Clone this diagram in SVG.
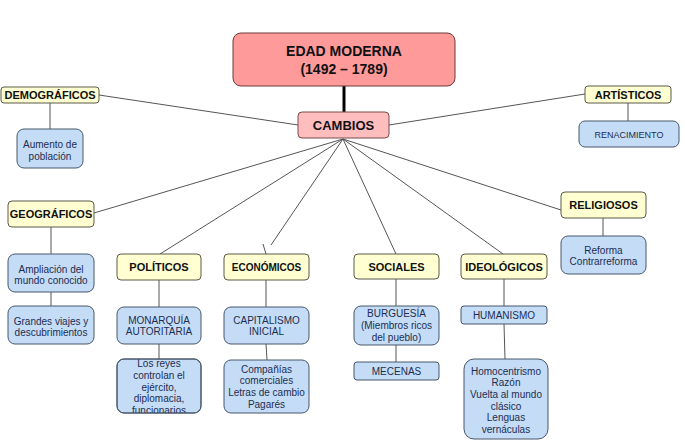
<svg xmlns="http://www.w3.org/2000/svg" width="685" height="447" viewBox="0 0 685 447">
<defs>
<style>
.t{font-family:"Liberation Sans",Arial,sans-serif;font-weight:bold;font-size:11px;fill:#111;text-anchor:middle}
.b{font-family:"Liberation Sans",Arial,sans-serif;font-size:10px;fill:#1c2d4f;text-anchor:middle}
.yb{fill:#ffffd2;stroke:#5a5a4a;stroke-width:1}
.bb{fill:#c5dcf7;stroke:#46566b;stroke-width:1}
.c line{stroke:#555;stroke-width:1}
</style>
<clipPath id="clipReyes"><rect x="117" y="359" width="84" height="54" rx="7"/></clipPath>
</defs>
<rect width="685" height="447" fill="#fff"/>
<g class="c" id="connectors">
<line x1="344" y1="86" x2="344" y2="112" style="stroke:#000;stroke-width:3"/>
<line x1="99" y1="95" x2="298" y2="125"/>
<line x1="585" y1="94" x2="389" y2="125"/>
<line x1="343" y1="139" x2="94" y2="213"/>
<line x1="343" y1="139" x2="160" y2="254"/>
<line x1="343" y1="139" x2="271" y2="245"/>
<line x1="263" y1="244" x2="266" y2="254"/>
<line x1="343" y1="139" x2="396" y2="254"/>
<line x1="343" y1="139" x2="503" y2="254"/>
<line x1="343" y1="139" x2="561" y2="210"/>
<line x1="50" y1="103" x2="50" y2="129"/>
<line x1="628" y1="103" x2="628" y2="121"/>
<line x1="51" y1="227" x2="51" y2="254"/>
<line x1="51" y1="292" x2="51" y2="306"/>
<line x1="159" y1="280" x2="159" y2="307"/>
<line x1="159" y1="344" x2="159" y2="359"/>
<line x1="266" y1="280" x2="266" y2="307"/>
<line x1="266" y1="344" x2="267" y2="360"/>
<line x1="396" y1="279" x2="396" y2="306"/>
<line x1="396" y1="345" x2="396" y2="362"/>
<line x1="504" y1="279" x2="504" y2="306"/>
<line x1="504" y1="324" x2="505" y2="359"/>
<line x1="603" y1="218" x2="603" y2="236"/>
</g>
<g id="edad">
<rect x="233" y="33" width="222" height="53" rx="8" fill="#ff9a9a" stroke="#6a3a3a"/>
<text class="t" x="344" y="56" style="font-size:14px">EDAD MODERNA</text>
<text class="t" x="344" y="74" style="font-size:14px">(1492 – 1789)</text>
</g>
<g id="cambios">
<rect x="298" y="112" width="91" height="26" rx="4" fill="#ffbdbd" stroke="#7a4a4a"/>
<text class="t" x="343.5" y="130" style="font-size:13px">CAMBIOS</text>
</g>
<g id="demograficos">
<rect class="yb" x="1" y="87" width="98" height="16" rx="3"/>
<text class="t" x="50" y="99">DEMOGRÁFICOS</text>
</g>
<g id="aumento">
<rect class="bb" x="17" y="129" width="66" height="39" rx="7"/>
<text class="b" x="50" y="147.5">Aumento de</text>
<text class="b" x="50" y="159.5">población</text>
</g>
<g id="artisticos">
<rect class="yb" x="585" y="86" width="86" height="17" rx="3"/>
<text class="t" x="628" y="98.5">ARTÍSTICOS</text>
</g>
<g id="renacimiento">
<rect class="bb" x="579" y="121" width="100" height="26" rx="6"/>
<text class="b" x="629" y="137.5" style="font-size:9px">RENACIMIENTO</text>
</g>
<g id="geograficos">
<rect class="yb" x="8" y="201" width="86" height="26" rx="4"/>
<text class="t" x="51" y="218">GEOGRÁFICOS</text>
</g>
<g id="ampliacion">
<rect class="bb" x="8" y="254" width="86" height="38" rx="7"/>
<text class="b" x="51" y="272.5">Ampliación del</text>
<text class="b" x="51" y="283.5">mundo conocido</text>
</g>
<g id="grandes">
<rect class="bb" x="8" y="306" width="86" height="38" rx="7"/>
<text class="b" x="51" y="324.5">Grandes viajes y</text>
<text class="b" x="51" y="336">descubrimientos</text>
</g>
<g id="politicos">
<rect class="yb" x="117" y="254" width="84" height="26" rx="4"/>
<text class="t" x="159" y="271">POLÍTICOS</text>
</g>
<g id="monarquia">
<rect class="bb" x="117" y="307" width="84" height="37" rx="7"/>
<text class="b" x="159" y="323.5">MONARQUÍA</text>
<text class="b" x="159" y="335">AUTORITARIA</text>
</g>
<g id="reyes">
<rect class="bb" x="117" y="359" width="84" height="54" rx="7"/>
<g clip-path="url(#clipReyes)">
<text class="b" x="159" y="366.5">Los reyes</text>
<text class="b" x="159" y="379">controlan el</text>
<text class="b" x="159" y="390.5">ejército,</text>
<text class="b" x="159" y="401.5">diplomacia,</text>
<text class="b" x="159" y="413.5">funcionarios</text>
</g>
<rect x="117" y="359" width="84" height="54" rx="7" fill="none" stroke="#46566b"/>
</g>
<g id="economicos">
<rect class="yb" x="224" y="254" width="85" height="26" rx="4"/>
<text class="t" x="266.5" y="271" style="font-size:10px">ECONÓMICOS</text>
</g>
<g id="capitalismo">
<rect class="bb" x="224" y="307" width="85" height="37" rx="7"/>
<text class="b" x="266.5" y="323.5">CAPITALISMO</text>
<text class="b" x="266.5" y="335">INICIAL</text>
</g>
<g id="companias">
<rect class="bb" x="224" y="360" width="85" height="53" rx="7"/>
<text class="b" x="266.5" y="372.5">Compañías</text>
<text class="b" x="266.5" y="383.5">comerciales</text>
<text class="b" x="266.5" y="395.5">Letras de cambio</text>
<text class="b" x="266.5" y="407.5">Pagarés</text>
</g>
<g id="sociales">
<rect class="yb" x="354" y="254" width="85" height="25" rx="4"/>
<text class="t" x="396.5" y="271">SOCIALES</text>
</g>
<g id="burguesia">
<rect class="bb" x="354" y="306" width="85" height="39" rx="7"/>
<text class="b" x="396.5" y="316.5">BURGUESÍA</text>
<text class="b" x="396.5" y="328.5">(Miembros ricos</text>
<text class="b" x="396.5" y="340.5">del pueblo)</text>
</g>
<g id="mecenas">
<rect class="bb" x="354" y="362" width="85" height="18" rx="3"/>
<text class="b" x="396.5" y="374.5">MECENAS</text>
</g>
<g id="ideologicos">
<rect class="yb" x="461" y="254" width="86" height="25" rx="4"/>
<text class="t" x="504" y="271">IDEOLÓGICOS</text>
</g>
<g id="humanismo">
<rect class="bb" x="461" y="306" width="86" height="18" rx="3"/>
<text class="b" x="504" y="319">HUMANISMO</text>
</g>
<g id="homocentrismo">
<rect class="bb" x="464" y="359" width="84" height="80" rx="10"/>
<text class="b" x="506" y="374.5">Homocentrismo</text>
<text class="b" x="506" y="385.5">Razón</text>
<text class="b" x="506" y="397.5">Vuelta al mundo</text>
<text class="b" x="506" y="409.5">clásico</text>
<text class="b" x="506" y="420.5">Lenguas</text>
<text class="b" x="506" y="432.5">vernáculas</text>
</g>
<g id="religiosos">
<rect class="yb" x="561" y="192" width="85" height="26" rx="4"/>
<text class="t" x="603.5" y="209">RELIGIOSOS</text>
</g>
<g id="reforma">
<rect class="bb" x="561" y="236" width="85" height="38" rx="7"/>
<text class="b" x="603.5" y="253.5">Reforma</text>
<text class="b" x="603.5" y="264.5">Contrarreforma</text>
</g>
</svg>
